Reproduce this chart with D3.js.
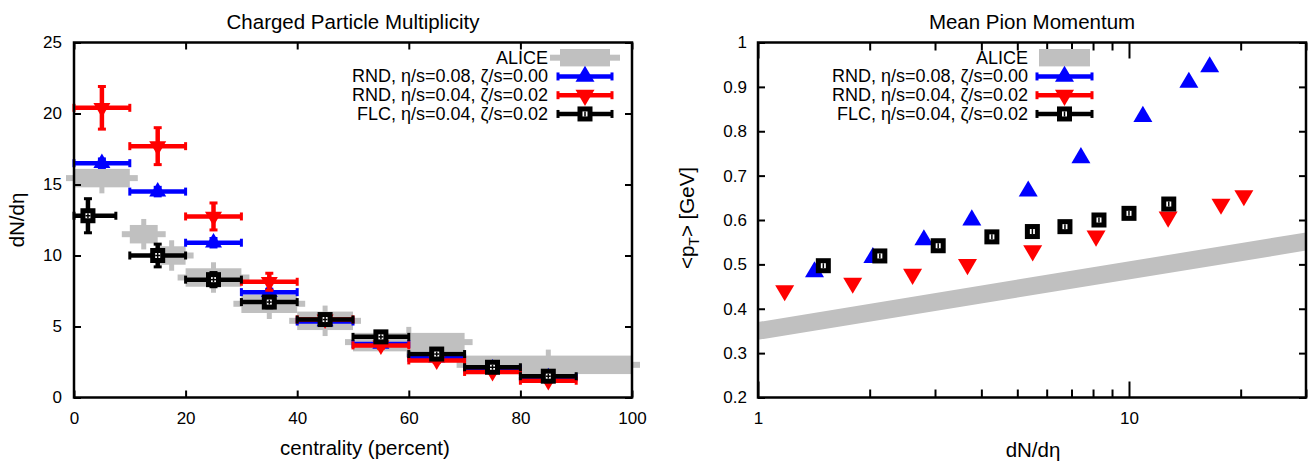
<!DOCTYPE html>
<html>
<head>
<meta charset="utf-8">
<script src="https://cdn.jsdelivr.net/npm/d3@7"></script>
<style>
  body { margin: 0; background: #fff; }
  text { font-family: "Liberation Sans", Arial, Helvetica, sans-serif; fill: #000; }
</style>
</head>
<body>
<div id="chart"></div>
<script>
var svgWidth = 1309;
var svgHeight = 465;

// centrality bins (percent) of the model points, half width of each bin
var rndCent = [5, 15, 25, 35, 45, 55, 65, 75, 85];
var flcCent = [2.5, 15, 25, 35, 45, 55, 65, 75, 85];
var binHalf = 5;

// dN/deta of the three model runs (central -> peripheral)
var rnd08Mult = [16.5, 14.5, 10.9, 7.42, 5.35, 3.77, 2.80, 2.04, 1.42];
var rnd08Err  = [0.3, 0.3, 0.3, 0.2, 0.2, 0.1, 0.1, 0.1, 0.1];
var rnd04Mult = [20.4, 17.7, 12.75, 8.15, 5.50, 3.67, 2.61, 1.80, 1.18];
var rnd04Err  = [1.5, 1.3, 0.95, 0.6, 0.3, 0.2, 0.15, 0.1, 0.1];
var flcMult   = [12.8, 10.0, 8.3, 6.72, 5.49, 4.27, 3.06, 2.13, 1.50];
var flcErr    = [1.2, 0.8, 0.5, 0.4, 0.3, 0.2, 0.15, 0.1, 0.1];

// mean pion pT [GeV] for the same points
var rnd08Pt = [0.945, 0.91, 0.833, 0.74, 0.665, 0.60, 0.555, 0.515, 0.483];
var rnd04Pt = [0.655, 0.636, 0.607, 0.564, 0.531, 0.50, 0.478, 0.458, 0.441];
var flcPt   = [0.636, 0.615, 0.600, 0.585, 0.574, 0.562, 0.542, 0.519, 0.497];

// ALICE multiplicity
var aliceLo   = [0, 10, 15, 20, 30, 40, 50, 70];
var aliceHi   = [10, 15, 20, 30, 40, 50, 70, 100];
var aliceMult = [15.45, 11.5, 10.0, 8.45, 6.6, 5.4, 3.9, 2.3];
var aliceErr  = [0.65, 0.65, 0.65, 0.65, 0.65, 0.65, 0.65, 0.65];

// ALICE mean pT band
var aliceBandMult = [1, 30];
var aliceBandLow  = [0.33, 0.531];
var aliceBandHigh = [0.37, 0.572];

// ticks
var centTicks = [0, 20, 40, 60, 80, 100];
var multTicks = [0, 5, 10, 15, 20, 25];
var ptTicks = [0.2, 0.3, 0.4, 0.5, 0.6, 0.7, 0.8, 0.9, 1];
var logMajor = [1, 10];
var logMinor = [2, 3, 4, 5, 6, 7, 8, 9, 20, 30];

var legendLabels = ["ALICE", "RND, η/s=0.08, ζ/s=0.00", "RND, η/s=0.04, ζ/s=0.02", "FLC, η/s=0.04, ζ/s=0.02"];

var gray = "#c0c0c0", blue = "#0000ff", red = "#ff0000";

var plotTop = 42.5, plotHeight = 355;
var leftPanel = {left: 74, width: 558};
var rightPanel = {left: 758, width: 548};

var svg = d3.select("#chart")
    .append("svg")
    .attr("width", svgWidth)
    .attr("height", svgHeight);

var gLeft = svg.append("g").attr("transform", `translate(${leftPanel.left}, ${plotTop})`);
var gRight = svg.append("g").attr("transform", `translate(${rightPanel.left}, ${plotTop})`);

var xCent = d3.scaleLinear().domain([0, 100]).range([0, leftPanel.width]);
var yMult = d3.scaleLinear().domain([0, 25]).range([plotHeight, 0]);
var xLog = d3.scaleLog().domain([1, 30]).range([0, rightPanel.width]);
var yPt = d3.scaleLinear().domain([0.2, 1]).range([plotHeight, 0]);

// ---------- helpers ----------
function triPath(s, up) {
    var h = 1.7 * s;
    if (up) return `M0,${-2 * h / 3}L${s},${h / 3}L${-s},${h / 3}Z`;
    return `M0,${2 * h / 3}L${s},${-h / 3}L${-s},${-h / 3}Z`;
}

function square(g, x, y, s, cross) {
    g.append("rect").attr("x", x - s).attr("y", y - s).attr("width", 2 * s).attr("height", 2 * s).attr("fill", "#000");
    g.append("rect").attr("x", x - 2.5).attr("y", y - 2.5).attr("width", 5).attr("height", 5).attr("fill", "#fff");
    g.append("line").attr("x1", x).attr("x2", x).attr("y1", y - 2.5).attr("y2", y + 2.5).attr("stroke", "#000").attr("stroke-width", 1.5);
    if (cross) {
        g.append("line").attr("x1", x - 2.5).attr("x2", x + 2.5).attr("y1", y).attr("y2", y).attr("stroke", "#000").attr("stroke-width", 1.5);
    }
}

function errBar(g, xa, xb, y, x, ya, yb, color) {
    var lw = 4.5, cap = 4;
    g.append("line").attr("x1", xa).attr("x2", xb).attr("y1", y).attr("y2", y)
        .attr("stroke", color).attr("stroke-width", lw);
    g.append("line").attr("x1", xa).attr("x2", xa).attr("y1", y - cap).attr("y2", y + cap)
        .attr("stroke", color).attr("stroke-width", 3);
    g.append("line").attr("x1", xb).attr("x2", xb).attr("y1", y - cap).attr("y2", y + cap)
        .attr("stroke", color).attr("stroke-width", 3);
    if (ya !== null) {
        g.append("line").attr("x1", x).attr("x2", x).attr("y1", ya).attr("y2", yb)
            .attr("stroke", color).attr("stroke-width", lw);
        g.append("line").attr("x1", x - cap).attr("x2", x + cap).attr("y1", ya).attr("y2", ya)
            .attr("stroke", color).attr("stroke-width", 3);
        g.append("line").attr("x1", x - cap).attr("x2", x + cap).attr("y1", yb).attr("y2", yb)
            .attr("stroke", color).attr("stroke-width", 3);
    }
}

function aliceShape(g, xa, xb, ya, yb) {
    var xm = (xa + xb) / 2, ym = (ya + yb) / 2;
    g.append("rect").attr("x", xa - 8).attr("y", ym - 3).attr("width", xb - xa + 16).attr("height", 6).attr("fill", gray);
    g.append("rect").attr("x", xm - 2.5).attr("y", ya - 6).attr("width", 5).attr("height", yb - ya + 12).attr("fill", gray);
    g.append("rect").attr("x", xa).attr("y", ya).attr("width", xb - xa).attr("height", yb - ya).attr("fill", gray);
}

function styleAxis(a) {
    a.select(".domain").remove();
    a.selectAll(".tick line").attr("stroke", "#000").attr("stroke-width", 2);
    a.selectAll("text").attr("font-size", 17).attr("font-family", "Liberation Sans, Arial, sans-serif");
}

// ---------- left panel: multiplicity vs centrality ----------
var aliceG = gLeft.append("g");
aliceMult.forEach(function(v, i) {
    aliceShape(aliceG, xCent(aliceLo[i]), xCent(aliceHi[i]), yMult(v + aliceErr[i]), yMult(v - aliceErr[i]));
});

var blueG = gLeft.append("g");
rnd08Mult.forEach(function(v, i) {
    var c = rndCent[i];
    errBar(blueG, xCent(c - binHalf), xCent(c + binHalf), yMult(v), xCent(c), yMult(v + rnd08Err[i]), yMult(v - rnd08Err[i]), blue);
    blueG.append("path").attr("d", triPath(8.5, true)).attr("transform", `translate(${xCent(c)}, ${yMult(v)})`).attr("fill", blue);
});

var redG = gLeft.append("g");
rnd04Mult.forEach(function(v, i) {
    var c = rndCent[i];
    errBar(redG, xCent(c - binHalf), xCent(c + binHalf), yMult(v), xCent(c), yMult(v + rnd04Err[i]), yMult(v - rnd04Err[i]), red);
    redG.append("path").attr("d", triPath(8.5, false)).attr("transform", `translate(${xCent(c)}, ${yMult(v)})`).attr("fill", red);
});

var blackG = gLeft.append("g");
flcMult.forEach(function(v, i) {
    var c = flcCent[i];
    errBar(blackG, xCent(Math.max(0, c - binHalf)), xCent(c + binHalf), yMult(v), xCent(c), yMult(v + flcErr[i]), yMult(v - flcErr[i]), "#000");
    square(blackG, xCent(c), yMult(v), 7.5, true);
});

// axes, ticks inward on all four sides
var axB = gLeft.append("g").attr("transform", `translate(0, ${plotHeight})`)
    .call(d3.axisBottom(xCent).tickValues(centTicks).tickSize(-7).tickPadding(14).tickFormat(d3.format("d")));
styleAxis(axB);
styleAxis(gLeft.append("g").call(d3.axisTop(xCent).tickValues(centTicks).tickSize(-7).tickFormat("")));
styleAxis(gLeft.append("g").call(d3.axisLeft(yMult).tickValues(multTicks).tickSize(-7).tickPadding(12).tickFormat(d3.format("d"))));
styleAxis(gLeft.append("g").attr("transform", `translate(${leftPanel.width}, 0)`)
    .call(d3.axisRight(yMult).tickValues(multTicks).tickSize(-7).tickFormat("")));
gLeft.append("rect").attr("width", leftPanel.width).attr("height", plotHeight)
    .attr("fill", "none").attr("stroke", "#000").attr("stroke-width", 2.5);

// ---------- right panel: mean pT vs multiplicity ----------
var band = d3.area()
    .x(d => xLog(d.m))
    .y0(d => yPt(d.lo))
    .y1(d => yPt(d.hi));
var bandData = aliceBandMult.map(function(m, i) { return {m: m, lo: aliceBandLow[i], hi: aliceBandHigh[i]}; });
gRight.append("path").attr("d", band(bandData)).attr("fill", gray);

rnd08Mult.forEach(function(m, i) {
    gRight.append("path").attr("d", triPath(9.5, true))
        .attr("transform", `translate(${xLog(m)}, ${yPt(rnd08Pt[i])})`).attr("fill", blue);
});
rnd04Mult.forEach(function(m, i) {
    gRight.append("path").attr("d", triPath(9.5, false))
        .attr("transform", `translate(${xLog(m)}, ${yPt(rnd04Pt[i])})`).attr("fill", red);
});
flcMult.forEach(function(m, i) {
    square(gRight, xLog(m), yPt(flcPt[i]), 7.5, false);
});

var rxB = gRight.append("g").attr("transform", `translate(0, ${plotHeight})`);
rxB.call(d3.axisBottom(xLog).tickValues(logMajor).tickSize(-16).tickPadding(14).tickFormat(d3.format("d")));
styleAxis(rxB);
styleAxis(gRight.append("g").attr("transform", `translate(0, ${plotHeight})`)
    .call(d3.axisBottom(xLog).tickValues(logMinor).tickSize(-8).tickFormat("")));
styleAxis(gRight.append("g").call(d3.axisTop(xLog).tickValues(logMajor).tickSize(-16).tickFormat("")));
styleAxis(gRight.append("g").call(d3.axisTop(xLog).tickValues(logMinor).tickSize(-8).tickFormat("")));
styleAxis(gRight.append("g").call(d3.axisLeft(yPt).tickValues(ptTicks).tickSize(-7).tickPadding(11).tickFormat(d => String(d))));
styleAxis(gRight.append("g").attr("transform", `translate(${rightPanel.width}, 0)`)
    .call(d3.axisRight(yPt).tickValues(ptTicks).tickSize(-7).tickFormat("")));
gRight.append("rect").attr("width", rightPanel.width).attr("height", plotHeight)
    .attr("fill", "none").attr("stroke", "#000").attr("stroke-width", 2.5);

// ---------- legends ----------
function drawLegend(g, textRight, s0, s1, triSize, aliceFull) {
    var sm = (s0 + s1) / 2;
    legendLabels.forEach(function(label, i) {
        var y = 15.2 + 18.75 * i;
        g.append("text").attr("x", textRight).attr("y", y + 6)
            .attr("text-anchor", "end").attr("font-size", 18).text(label);
        if (i === 0) {
            if (aliceFull) {
                g.append("rect").attr("x", s0 + 2).attr("y", y - 8.7).attr("width", s1 - s0 - 4).attr("height", 17.4).attr("fill", gray);
            } else {
                g.append("rect").attr("x", s0 - 8).attr("y", y - 3).attr("width", s1 - s0 + 16).attr("height", 6).attr("fill", gray);
                g.append("rect").attr("x", s0 + 2).attr("y", y - 8.7).attr("width", s1 - s0 - 4).attr("height", 17.4).attr("fill", gray);
            }
            return;
        }
        var col = i === 1 ? blue : (i === 2 ? red : "#000");
        errBar(g, s0, s1, y, sm, null, null, col);
        if (i === 1) g.append("path").attr("d", triPath(triSize, true)).attr("transform", `translate(${sm}, ${y})`).attr("fill", blue);
        if (i === 2) g.append("path").attr("d", triPath(triSize, false)).attr("transform", `translate(${sm}, ${y})`).attr("fill", red);
        if (i === 3) square(g, sm, y, 7.5, false);
    });
}
drawLegend(gLeft, 474, 484, 538, 9.5, false);
drawLegend(gRight, 270, 279, 334, 9.5, true);

// ---------- titles and axis labels ----------
svg.append("text").attr("x", leftPanel.left + leftPanel.width / 2).attr("y", 29)
    .attr("text-anchor", "middle").attr("font-size", 20.5).text("Charged Particle Multiplicity");
svg.append("text").attr("x", rightPanel.left + rightPanel.width / 2).attr("y", 29)
    .attr("text-anchor", "middle").attr("font-size", 20.5).text("Mean Pion Momentum");

svg.append("text").attr("x", 365).attr("y", 455)
    .attr("text-anchor", "middle").attr("font-size", 20.5).text("centrality (percent)");
svg.append("text").attr("x", 1033).attr("y", 457)
    .attr("text-anchor", "middle").attr("font-size", 20.5).text("dN/dη");

svg.append("text").attr("transform", "translate(24, 220) rotate(-90)")
    .attr("text-anchor", "middle").attr("font-size", 20.5).text("dN/dη");
var ptLabel = svg.append("text").attr("transform", "translate(694, 218) rotate(-90)")
    .attr("text-anchor", "middle").attr("font-size", 20.5);
ptLabel.append("tspan").text("<p");
ptLabel.append("tspan").attr("font-size", 14).attr("dy", 5).text("T");
ptLabel.append("tspan").attr("dy", -5).text("> [GeV]");
</script>
</body>
</html>
